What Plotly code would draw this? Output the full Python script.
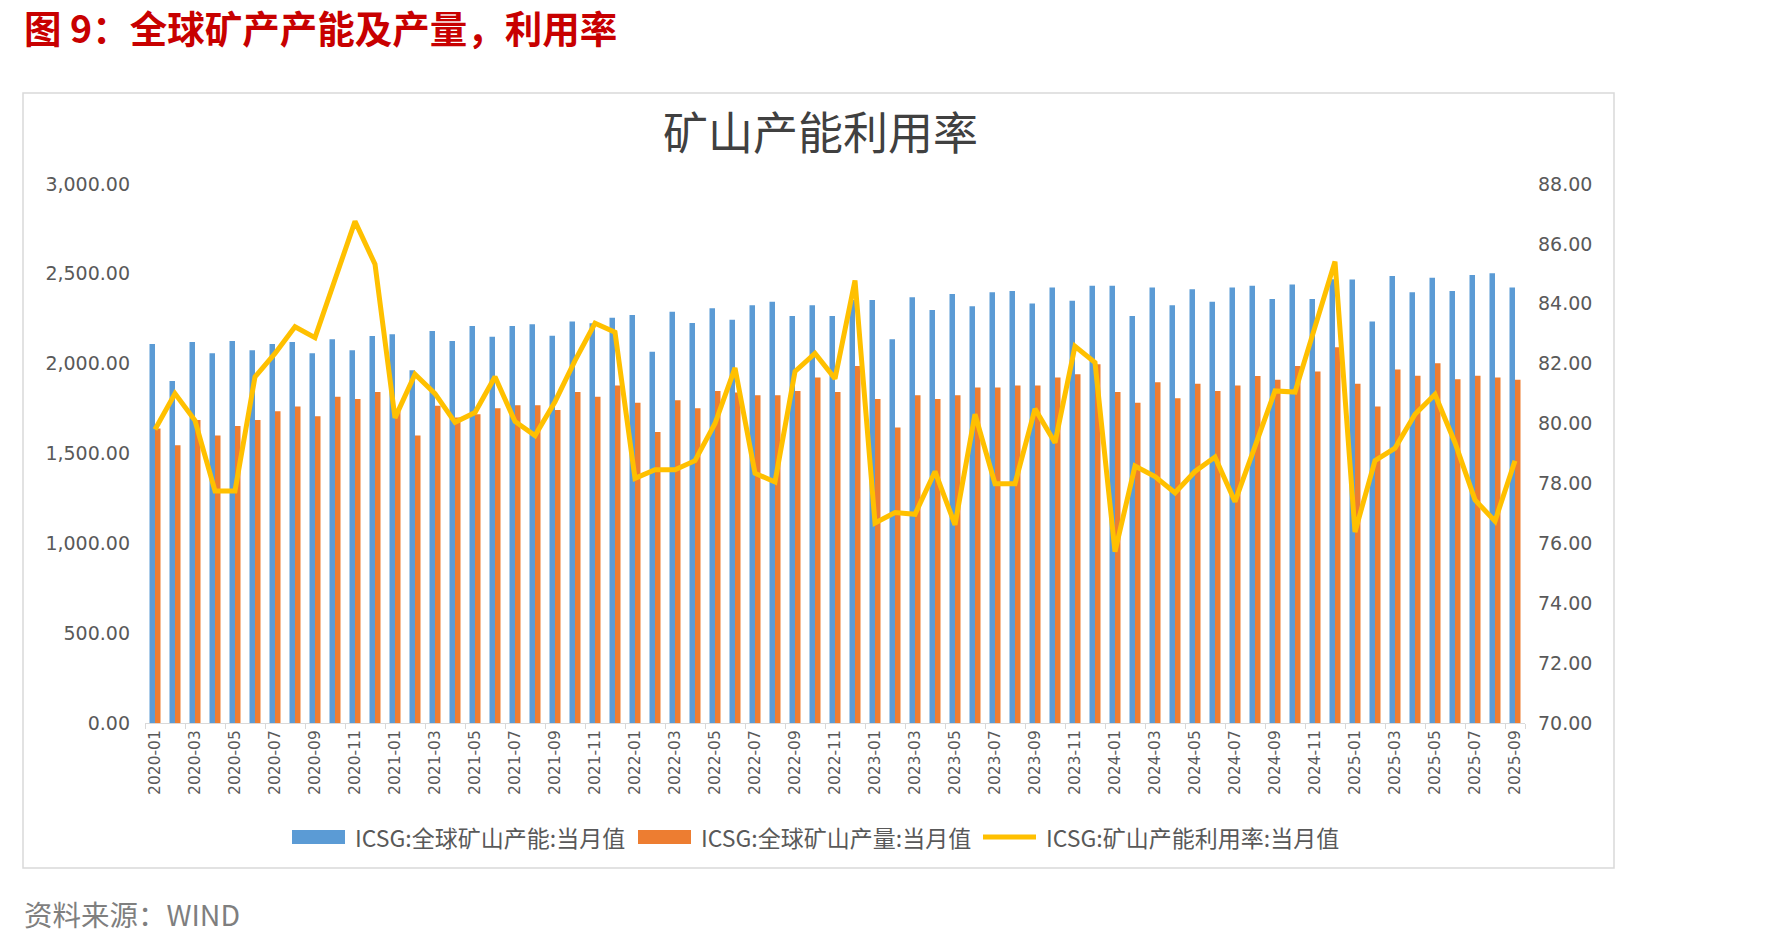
import plotly.graph_objects as go

months = [f"{y}-{m:02d}" for y in range(2020, 2026) for m in range(1, 13)][:69]

capacity = [2110, 1903, 2120, 2058, 2126, 2074, 2110, 2120, 2058, 2136, 2074, 2154, 2164, 1963, 2182,
            2126, 2209, 2150, 2209, 2219, 2156, 2235, 2225, 2255, 2271, 2066, 2289, 2227, 2309,
            2245, 2325, 2345, 2265, 2325, 2265, 2354, 2354, 2136, 2370, 2299, 2388, 2319, 2398,
            2404, 2335, 2424, 2350, 2434, 2434, 2265, 2424, 2325, 2414, 2345, 2424, 2434, 2360,
            2440, 2360, 2470, 2468, 2235, 2488, 2398, 2478, 2404, 2493, 2503, 2424]

production = [1639, 1546, 1687, 1600, 1653, 1687, 1735, 1762, 1707, 1816, 1804, 1842, 1735, 1600, 1766,
              1700, 1719, 1752, 1768, 1768, 1742, 1842, 1816, 1878, 1782, 1619, 1796, 1752, 1848,
              1840, 1824, 1824, 1848, 1923, 1842, 1987, 1804, 1645, 1824, 1804, 1824, 1868, 1868,
              1878, 1878, 1923, 1941, 1997, 1842, 1782, 1897, 1808, 1888, 1848, 1878, 1931, 1911,
              1987, 1957, 2092, 1888, 1762, 1967, 1933, 2003, 1913, 1933, 1923, 1911]

utilization = [79.8, 81.0, 80.1, 77.75, 77.75, 81.56, 82.34, 83.23, 82.87, 84.84, 86.75, 85.32, 80.19, 81.65, 81.0,
               80.04, 80.37, 81.56, 80.07, 79.6, 80.73, 82.1, 83.35, 83.05, 78.17, 78.46, 78.46, 78.76, 80.0,
               81.86, 78.34, 78.05, 81.74, 82.34, 81.5, 84.78, 76.68, 77.03, 76.97, 78.4, 76.62, 80.31, 77.99,
               77.99, 80.49, 79.36, 82.58, 82.04, 75.72, 78.58, 78.23, 77.69, 78.40, 78.88, 77.39, 79.24, 81.09,
               81.05, 83.17, 85.41, 76.38, 78.76, 79.18, 80.31, 80.97, 79.36, 77.45, 76.74, 78.76]

series_names = ["ICSG:全球矿山产能:当月值", "ICSG:全球矿山产量:当月值", "ICSG:矿山产能利用率:当月值"]
series_colors = ["#5B9BD5", "#ED7D31", "#FFC000"]
tick_months = months[::2]

W, H = 1772, 944
L, R, T, B = 145, 1525, 184, 723
pw, ph = R - L, B - T


def px(x):
    return (x - L) / pw


def py(y):
    return (B - y) / ph


CJK = "Noto Sans CJK SC"
AX = "DejaVu Sans, Noto Sans CJK SC"
GRAY = "#595959"

fig = go.Figure()
fig.add_trace(go.Bar(x=months, y=capacity, name=series_names[0], marker_color=series_colors[0],
                     marker_line_width=0, showlegend=False))
fig.add_trace(go.Bar(x=months, y=production, name=series_names[1], marker_color=series_colors[1],
                     marker_line_width=0, showlegend=False))
fig.add_trace(go.Scatter(x=months, y=utilization, name=series_names[2], mode="lines",
                         line=dict(color=series_colors[2], width=5), yaxis="y2", showlegend=False))

shapes = [dict(type="rect", xref="paper", yref="paper", x0=px(23), x1=px(1614), y0=py(868), y1=py(93),
               line=dict(color="#D9D9D9", width=1.5), fillcolor="rgba(0,0,0,0)", layer="below")]
annotations = [
    dict(text="<b>图 9：全球矿产产能及产量，利用率</b>", xref="paper", yref="paper",
         x=px(22), y=py(26), xanchor="left", yanchor="middle", showarrow=False,
         font=dict(family=CJK, size=37.5, color="#C80000")),
    dict(text="矿山产能利用率", xref="paper", yref="paper", x=px(820), y=py(131),
         xanchor="center", yanchor="middle", showarrow=False,
         font=dict(family=CJK, size=45, color="#404040")),
    dict(text="资料来源：WIND", xref="paper", yref="paper", x=px(22), y=py(913),
         xanchor="left", yanchor="middle", showarrow=False,
         font=dict(family=CJK, size=28.5, color="#7F7F7F")),
]

# custom legend (wide swatches like the original)
leg_y = 837
leg_x = [292, 638, 983]
for i, (name, col) in enumerate(zip(series_names, series_colors)):
    x0 = leg_x[i]
    if i < 2:
        shapes.append(dict(type="rect", xref="paper", yref="paper", x0=px(x0), x1=px(x0 + 53),
                           y0=py(leg_y + 7), y1=py(leg_y - 7), fillcolor=col, line=dict(width=0)))
    else:
        shapes.append(dict(type="line", xref="paper", yref="paper", x0=px(x0), x1=px(x0 + 53),
                           y0=py(leg_y), y1=py(leg_y), line=dict(color=col, width=5)))
    annotations.append(dict(text=name, xref="paper", yref="paper", x=px(x0 + 61), y=py(leg_y),
                            xanchor="left", yanchor="middle", showarrow=False,
                            font=dict(family=CJK, size=23, color=GRAY)))

fig.update_layout(
    width=W, height=H,
    margin=dict(l=L, r=W - R, t=T, b=H - B, pad=0),
    paper_bgcolor="white", plot_bgcolor="white",
    barmode="group", bargap=0.45, bargroupgap=0.0,
    xaxis=dict(type="category", tickmode="array", tickvals=tick_months, ticktext=tick_months,
               tickangle=-90, tickson="boundaries", ticks="outside", ticklen=5, tickcolor="#D9D9D9",
               showline=True, linecolor="#D9D9D9", linewidth=1, showgrid=False,
               tickfont=dict(family=AX, size=15.5, color=GRAY), range=[-0.5, 68.5]),
    yaxis=dict(range=[0, 3000], dtick=500, tickformat=",.2f", showgrid=False, zeroline=False,
               showline=False, ticks="", ticklabelstandoff=14,
               tickfont=dict(family=AX, size=19, color=GRAY)),
    yaxis2=dict(range=[70, 88], dtick=2, tickformat=".2f", overlaying="y", side="right",
                showgrid=False, zeroline=False, showline=False, ticks="", ticklabelstandoff=12,
                tickfont=dict(family=AX, size=19, color=GRAY)),
    shapes=shapes,
    annotations=annotations,
)

fig.write_html("out.html")
